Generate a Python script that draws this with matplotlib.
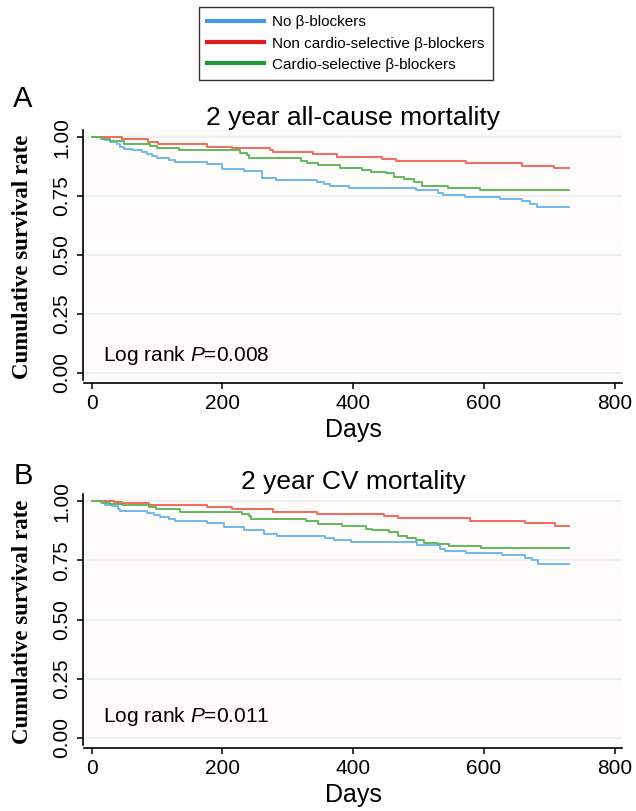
import matplotlib
matplotlib.use("Agg")
import matplotlib.pyplot as plt
from matplotlib.lines import Line2D

plt.rcParams["mathtext.fontset"] = "custom"
plt.rcParams["mathtext.rm"] = "Liberation Sans"
plt.rcParams["mathtext.it"] = "Liberation Sans:italic"
plt.rcParams["font.family"] = ["Liberation Sans", "DejaVu Sans"]

# ---------------- data ----------------
group_labels = ["No \u03b2-blockers", "Non cardio-selective \u03b2-blockers", "Cardio-selective \u03b2-blockers"]

# Panel A: 2 year all-cause mortality
days_a_none = [0, 14, 21, 29, 39, 44, 49, 62, 77, 85, 92, 100, 118, 128, 177, 200, 233, 261, 282,
               345, 355, 365, 393, 496, 530, 537, 571, 624, 658, 670, 681, 730]
surv_a_none = [1.0, 0.993, 0.986, 0.978, 0.969, 0.958, 0.949, 0.944, 0.935, 0.927, 0.919, 0.910, 0.902,
               0.895, 0.886, 0.865, 0.855, 0.827, 0.817, 0.810, 0.802, 0.793, 0.784, 0.774, 0.763, 0.754,
               0.744, 0.736, 0.728, 0.716, 0.702, 0.702]
days_a_ncs = [0, 47, 87, 102, 177, 215, 273, 278, 339, 375, 444, 465, 573, 658, 707, 730]
surv_a_ncs = [1.0, 0.993, 0.980, 0.972, 0.960, 0.952, 0.945, 0.937, 0.928, 0.916, 0.907, 0.897, 0.889,
              0.876, 0.867, 0.867]
days_a_cs = [0, 16, 29, 49, 90, 100, 133, 227, 238, 240, 320, 330, 347, 380, 414, 427, 450, 463, 478,
             493, 506, 545, 594, 730]
surv_a_cs = [1.0, 0.993, 0.984, 0.972, 0.963, 0.955, 0.944, 0.932, 0.922, 0.911, 0.900, 0.892, 0.880,
             0.871, 0.861, 0.854, 0.847, 0.829, 0.822, 0.811, 0.794, 0.786, 0.777, 0.777]

# Panel B: 2 year CV mortality
days_b_none = [0, 14, 21, 31, 41, 44, 85, 95, 105, 118, 128, 177, 202, 233, 264, 284, 357, 370, 396,
               498, 532, 540, 573, 627, 663, 673, 683, 730]
surv_b_none = [1.0, 0.993, 0.985, 0.978, 0.968, 0.958, 0.949, 0.941, 0.933, 0.924, 0.916, 0.907, 0.889,
               0.879, 0.862, 0.851, 0.843, 0.834, 0.826, 0.813, 0.799, 0.789, 0.781, 0.771, 0.761, 0.753,
               0.736, 0.736]
days_b_ncs = [0, 34, 47, 88, 177, 215, 278, 344, 447, 468, 578, 663, 708, 730]
surv_b_ncs = [1.0, 0.996, 0.992, 0.985, 0.975, 0.965, 0.954, 0.945, 0.937, 0.928, 0.917, 0.906, 0.895,
              0.895]
days_b_cs = [0, 17, 29, 47, 88, 98, 135, 230, 240, 244, 328, 347, 383, 419, 429, 455, 468, 483, 496,
             508, 530, 547, 596, 730]
surv_b_cs = [1.0, 0.994, 0.989, 0.982, 0.975, 0.966, 0.955, 0.947, 0.935, 0.924, 0.915, 0.903, 0.895,
             0.883, 0.876, 0.869, 0.851, 0.844, 0.834, 0.824, 0.817, 0.809, 0.801, 0.801]

titles = ["2 year all-cause mortality", "2 year CV mortality"]
panel_letters = ["A", "B"]
pvalues = ["0.008", "0.011"]
x_ticks = [0, 200, 400, 600, 800]
y_ticks = [0.0, 0.25, 0.5, 0.75, 1.0]
y_ticklabels = ["0.00", "0.25", "0.50", "0.75", "1.00"]

curve_colors = ["#72b8ea", "#f26a5e", "#62b85a"]
legend_colors = ["#4a98dc", "#e21b22", "#1f9a3a"]

# ---------------- figure ----------------
W, H = 636, 811
fig = plt.figure(figsize=(W / 100, H / 100), dpi=100)
fig.patch.set_facecolor("white")
serif = ["Liberation Serif", "DejaVu Serif"]


def fx(px):
    return px / W


def fy(py):
    return 1 - py / H


panels = [
    dict(top=130, bottom=380, letter_y=99,
         series=[(days_a_none, surv_a_none), (days_a_ncs, surv_a_ncs), (days_a_cs, surv_a_cs)],
         p_y=0.074),
    dict(top=494, bottom=745, letter_y=476,
         series=[(days_b_none, surv_b_none), (days_b_ncs, surv_b_ncs), (days_b_cs, surv_b_cs)],
         p_y=0.089),
]

left_px, right_px = 84, 622
for i, p in enumerate(panels):
    ax = fig.add_axes([fx(left_px), fy(p["bottom"]), fx(right_px - left_px),
                       (p["bottom"] - p["top"]) / H])
    ax.set_facecolor("#fdfcfa")
    for sp in ["top", "right"]:
        ax.spines[sp].set_visible(False)
    ax.spines["left"].set_position(("outward", 1))
    ax.spines["bottom"].set_position(("outward", 2))
    ax.spines["left"].set_linewidth(1.2)
    ax.spines["bottom"].set_linewidth(1.2)

    for (d, s), c in zip(p["series"], curve_colors):
        ax.step(d, s, where="post", color=c, lw=1.4, zorder=3)
    ax.set_xlim(-11.5, 811)
    ax.set_ylim(-0.03, 1.03)
    ax.set_xticks(x_ticks)
    ax.set_xticklabels([str(t) for t in x_ticks])
    ax.set_yticks(y_ticks)
    ax.set_yticklabels(y_ticklabels)
    ax.tick_params(axis="both", length=4, width=1.1, color="black", pad=4, labelsize=15)
    for lab in ax.get_yticklabels():
        lab.set_rotation(90)
        lab.set_va("center")
    ax.grid(axis="y", color="#edf1f0", lw=1.6, zorder=0)
    ax.grid(axis="x", visible=False)
    ax.set_xlabel("Days", fontsize=18, labelpad=4)
    ax.text(17, p["p_y"], "Log rank $\\mathit{P}$=" + pvalues[i], fontsize=15,
            ha="left", va="center")
    ax.set_title(titles[i], fontsize=19, pad=3)
    fig.text(fx(23), fy(p["letter_y"]), panel_letters[i], fontsize=21,
             ha="center", va="center")
    fig.text(fx(23), fy((p["top"] + p["bottom"]) / 2 + 2), "Cumulative survival rate",
             fontsize=16.5, family=serif, weight="bold", rotation=90, ha="center", va="center")

handles = [Line2D([0], [0], color=c, lw=3) for c in legend_colors]
leg = fig.legend(handles, group_labels, loc="upper center", bbox_to_anchor=(fx(346), fy(7)),
                 fontsize=11, frameon=True, fancybox=False,
                 edgecolor="black", handlelength=3.7, handletextpad=0.55, labelspacing=0.47,
                 borderpad=0.55, borderaxespad=0)
leg.get_frame().set_linewidth(1.0)

fig.savefig("out.png", dpi=100)
